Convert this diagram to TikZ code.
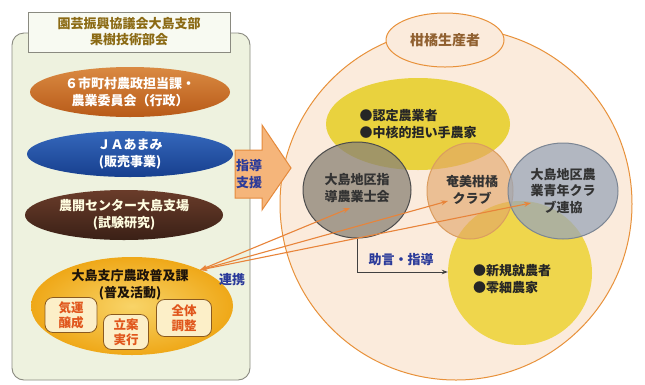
\documentclass[tikz,border=0pt]{standalone}
\usepackage{fontspec}
\newfontfamily\cjk{Noto Sans CJK JP}
\usetikzlibrary{shapes.geometric,arrows.meta}
\definecolor{panelfill}{HTML}{EEF2DF}
\definecolor{panelline}{HTML}{8A8A80}
\definecolor{titletext}{HTML}{8B6A14}
\definecolor{orgTop}{HTML}{DA8A42}
\definecolor{orgBot}{HTML}{B85A18}
\definecolor{blueTop}{HTML}{3568BC}
\definecolor{blueBot}{HTML}{173F8E}
\definecolor{brownTop}{HTML}{6A3C2A}
\definecolor{brownBot}{HTML}{3A2016}
\definecolor{goldA}{HTML}{EFA818}
\definecolor{goldB}{HTML}{F8D468}
\definecolor{boxfill}{HTML}{FCEFC8}
\definecolor{boxline}{HTML}{8A5A20}
\definecolor{boxtext}{HTML}{E0561C}
\definecolor{peach}{HTML}{FBEBDC}
\definecolor{peachline}{HTML}{E8913A}
\definecolor{yellowA}{HTML}{E9D23E}
\definecolor{yellowB}{HTML}{EFD64C}
\definecolor{grayA}{HTML}{8A8275}
\definecolor{tanA}{HTML}{E2A468}
\definecolor{bluegray}{HTML}{9AA6B8}
\definecolor{labelblue}{HTML}{2A3A9A}
\definecolor{arrowfill}{HTML}{F5B57A}
\definecolor{arrowline}{HTML}{E58A3C}
\definecolor{linkorange}{HTML}{E8843A}
\begin{document}
\begin{tikzpicture}[x=1pt,y=-1pt,
  every node/.style={font=\cjk\bfseries\fontsize{13}{17}\selectfont, align=center, inner sep=0pt},
  orgell/.style={ellipse, minimum width=200pt, minimum height=50pt, text=white},
  smallbox/.style={draw=boxline, fill=boxfill, rounded corners=8pt, line width=0.8pt, text=boxtext, font=\cjk\bfseries\fontsize{12.5}{15}\selectfont},
  lbl/.style={text=labelblue, font=\cjk\bfseries\fontsize{13}{17}\selectfont},
  link/.style={linkorange, line width=1.1pt, {Stealth[length=7pt,width=5pt]}-{Stealth[length=7pt,width=5pt]}}
]
\useasboundingbox (0,0) rectangle (645,384);
\fill[white] (0,0) rectangle (645,384);

% left panel
\draw[panelline, fill=panelfill, line width=0.9pt, rounded corners=12pt] (12,33) rectangle (250,380);
\node[draw=panelline, fill=white!60!panelfill, line width=0.9pt, minimum width=202pt, minimum height=40pt, text=titletext, font=\cjk\bfseries\fontsize{13}{16}\selectfont] (title) at (129,32) {園芸振興協議会大島支部\\果樹技術部会};

\node[orgell, top color=orgTop, bottom color=orgBot] (gyosei) at (130,92) {６市町村農政担当課・\\農業委員会（行政）};
\node[orgell, top color=blueTop, bottom color=blueBot, minimum width=206pt, minimum height=46pt] (ja) at (130,154) {ＪＡあまみ\\(販売事業)};
\node[orgell, top color=brownTop, bottom color=brownBot, minimum width=198pt, text=white!88!yellow] (center) at (124,215) {農開センター大島支場\\(試験研究)};
\node[ellipse, inner color=goldB, outer color=goldA, minimum width=202pt, minimum height=98pt] (fukyu) at (132,306) {};
\node[text=black!85!brown] (fukyutxt) at (130,285) {大島支庁農政普及課\\(普及活動)};
\node[smallbox, minimum width=52pt, minimum height=35pt] (kiun) at (71,315) {気運\\醸成};
\node[smallbox, minimum width=45pt, minimum height=35pt] (ritsuan) at (126,332) {立案\\実行};
\node[smallbox, minimum width=55pt, minimum height=37pt] (zentai) at (184,318) {全体\\調整};
\node[lbl] (renkei) at (232,280) {連携};

% right side
\draw[peachline, fill=peach, line width=1pt] (456,204) circle (176);
\node[ellipse, draw=peachline, fill=peach, line width=1pt, minimum width=118pt, minimum height=54pt, text=brown!75!black, font=\cjk\bfseries\fontsize{14}{17}\selectfont] (seisan) at (445,40) {柑橘生産者};

\node[ellipse, fill=yellowA, minimum width=184pt, minimum height=92pt, align=left, text=black!85] (nintei) at (418,124) {●認定農業者\\●中核的担い手農家};
\node[circle, fill=yellowB, minimum width=144pt, minimum height=136pt] (shinki) at (520,273) {};

\node[ellipse, fill=grayA, fill opacity=0.75, draw=black!70, line width=1pt, minimum width=108pt, minimum height=96pt] (shido) at (357,190) {};
\node[ellipse, fill=tanA, fill opacity=0.62, draw=tanA!80!brown, line width=1pt, minimum width=86pt, minimum height=96pt] (kankitsu) at (470,191) {};
\node[ellipse, fill=bluegray, fill opacity=0.75, draw=bluegray!80!black, line width=1pt, minimum width=110pt, minimum height=96pt] (seinen) at (563,191) {};

\node[text=black!80] (shidotxt) at (357,188) {大島地区指\\導農業士会};
\node[text=black!80] (kankitsutxt) at (472,190) {奄美柑橘\\クラブ};
\node[text=black!80, font=\cjk\bfseries\fontsize{13}{16.5}\selectfont] (seinentxt) at (563,191) {大島地区農\\業青年クラ\\ブ連協};
\node[align=left, text=black!85] (shinkitxt) at (512,279) {●新規就農者\\●零細農家};

% instruction arrow
\draw[arrowline, fill=arrowfill, line width=1pt, line join=miter]
  (235,150) -- (262,150) -- (262,125) -- (291,168) -- (262,210) -- (262,198) -- (235,198) -- cycle;
\node[lbl] (shien) at (249,174) {指導\\支援};

% advice connector
\coordinate (advend) at (shinki.west |- 0,272);
\draw[black!75, line width=0.9pt, -{Stealth[length=6pt,width=4.5pt]}] (shido.south) -- (357,272) -- (advend);
\node[lbl] (jogen) at (401,260) {助言・指導};

% cooperation links
\coordinate (linkstart) at (200,270);
\coordinate (t1) at (350,208);
\coordinate (t2) at (448,201);
\coordinate (t3) at (531,203);
\draw[link] (linkstart) -- (t1);
\draw[link] (linkstart) -- (t2);
\draw[link] (linkstart) -- (t3);
\end{tikzpicture}
\end{document}
